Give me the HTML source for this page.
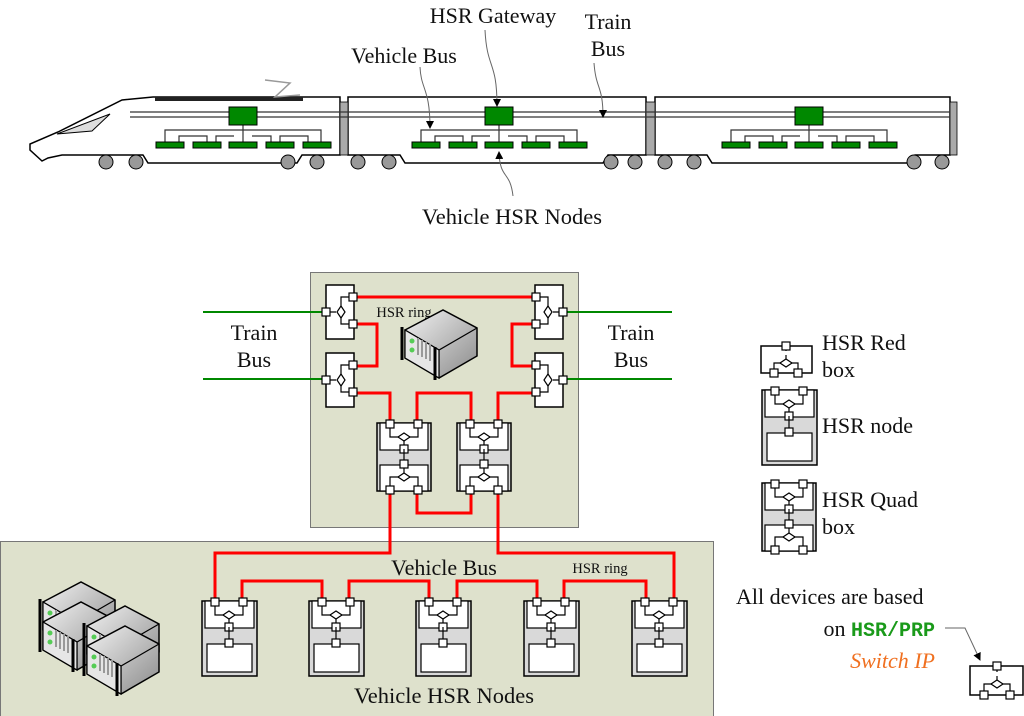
<!DOCTYPE html>
<html><head><meta charset="utf-8"><style>
html,body{margin:0;padding:0;background:#fff}
svg{display:block}
text{font-family:"Liberation Serif","DejaVu Serif",serif;fill:#111}
</style></head><body>
<svg width="1024" height="716" viewBox="0 0 1024 716" xmlns="http://www.w3.org/2000/svg">
<defs>
<linearGradient id="sg" x1="0" y1="0" x2="1" y2="1"><stop offset="0" stop-color="#f2f2f2"/><stop offset="1" stop-color="#8a8a8a"/></linearGradient>
<g id="port"><rect x="-4" y="-4" width="8" height="8" fill="#fff" stroke="#000" stroke-width="1.2"/></g>
<g id="dia"><path d="M-6,0 L0,-4 L6,0 L0,4 Z" fill="#fff" stroke="#000" stroke-width="1.2"/></g>
<g id="redbox">
<rect x="0" y="0" width="28" height="54" fill="#fff" stroke="#000" stroke-width="1.5"/>
<path d="M0,27 H10 M15,23 V12 H27 M15,31 V39 H27" fill="none" stroke="#000" stroke-width="1.2"/>
<use href="#dia" transform="translate(15,27) rotate(90)"/>
<use href="#port" x="0" y="27"/><use href="#port" x="27" y="12"/><use href="#port" x="27" y="39"/>
</g>
<g id="top">
<path d="M13,1 V14 H41 V1 M27,14 V26" fill="none" stroke="#000" stroke-width="1.2"/>
<use href="#dia" x="27" y="14"/>
<use href="#port" x="13" y="1"/><use href="#port" x="41" y="1"/><use href="#port" x="27" y="26"/>
</g>
<g id="quad">
<rect x="0" y="0" width="54" height="68" fill="#d9d9d9" stroke="#000" stroke-width="1.5"/>
<rect x="3" y="0" width="48" height="27" fill="#fff" stroke="#000" stroke-width="1.2"/>
<rect x="3" y="42" width="48" height="26" fill="#fff" stroke="#000" stroke-width="1.2"/>
<use href="#top"/>
<path d="M27,26 V41" stroke="#000" stroke-width="1.2"/>
<path d="M27,41 V54 M13,67 V54 H41 V67" fill="none" stroke="#000" stroke-width="1.2"/>
<use href="#dia" x="27" y="54"/>
<use href="#port" x="27" y="41"/><use href="#port" x="13" y="67"/><use href="#port" x="41" y="67"/>
</g>
<g id="node">
<rect x="0" y="0" width="55" height="75" fill="#d9d9d9" stroke="#000" stroke-width="1.5"/>
<rect x="3" y="0" width="49" height="27" fill="#fff" stroke="#000" stroke-width="1.2"/>
<rect x="5" y="43" width="45" height="28" fill="#fff" stroke="#000" stroke-width="1.2"/>
<use href="#top"/>
<path d="M27,26 V43" stroke="#000" stroke-width="1.2"/>
<use href="#port" x="27" y="42"/>
</g>
<g id="server">
<path d="M0,20 L38,0 L72,18 L72,46 L34,68 L0,48 Z" fill="url(#sg)" stroke="#000" stroke-width="1.5"/>
<path d="M0,20 L34,40 L72,18 M34,40 V68" fill="none" stroke="#000" stroke-width="1.2"/>
<path d="M0,20 L34,40 V68 L0,48 Z" fill="#e6e6e6" stroke="#000" stroke-width="1.2"/>
<circle cx="7" cy="31" r="2.5" fill="#5c5"/><circle cx="7" cy="40" r="2.5" fill="#5c5"/>
<path d="M13,28 V45 M17,30 V47 M21,32 V49 M25,34 V51" stroke="#999" stroke-width="2"/>
<path d="M-3,17 V50 M30,37 V70" stroke="#000" stroke-width="3"/>
</g>
<g id="gw"><rect x="0" y="0" width="28" height="18" fill="#080" stroke="#000" stroke-width="1"/></g>
<g id="vn"><rect x="0" y="0" width="28" height="6" fill="#080" stroke="#000" stroke-width="1"/></g>
<marker id="ah" markerWidth="8" markerHeight="8" refX="7" refY="4" orient="auto"><path d="M0,0 L8,4 L0,8 Z" fill="#000"/></marker>
</defs>

<!-- Train -->
<g stroke="#000" stroke-width="1.5" fill="#fff">
<path d="M42,161 L30,150 L30,144 L58,132 L122,100 L153,97 H340 V155 H302 L297,163 H148 L143,155 H62 L48,158 Z"/>
<path d="M348,97 H646 V155 H608 L603,163 H405 L400,155 H348 Z"/>
<path d="M655,97 H950 V155 H915 L910,163 H712 L707,155 H655 Z"/>
</g>
<path d="M57,134 L110,114 L92,131 Z" fill="#ddd" stroke="#000" stroke-width="1"/>
<rect x="155" y="97" width="148" height="4" fill="#222"/>
<path d="M265,80 L290,83 L275,97 L300,95" fill="none" stroke="#999" stroke-width="1.5"/>
<g fill="#aaa" stroke="#000" stroke-width="0.8">
<rect x="340" y="102" width="8" height="53"/><rect x="646" y="102" width="9" height="53"/><rect x="950" y="102" width="7" height="53"/>
</g>
<g stroke="#333" stroke-width="1.2"><path d="M130,112 H950 M130,117 H950"/></g>
<g fill="#999" stroke="#000" stroke-width="1">
<circle cx="106" cy="162" r="7"/><circle cx="136" cy="162" r="7"/><circle cx="288" cy="162" r="7"/><circle cx="317" cy="162" r="7"/>
<circle cx="358" cy="162" r="7"/><circle cx="389" cy="162" r="7"/><circle cx="611" cy="162" r="7"/><circle cx="635" cy="162" r="7"/>
<circle cx="665" cy="162" r="7"/><circle cx="694" cy="162" r="7"/><circle cx="914" cy="162" r="7"/><circle cx="942" cy="162" r="7"/>
</g>
<g id="bus2" fill="none" stroke="#333" stroke-width="1.2">
<path d="M499,125 V130 M421,142 V130 H577 V142 M435,142 V136 H463 V142 M472,142 V136 H490 M508,136 H527 V142 M536,142 V136 H564 V142 M499,130 V142"/>
</g>
<use href="#gw" x="485" y="107"/>
<use href="#vn" x="412" y="142"/><use href="#vn" x="449" y="142"/><use href="#vn" x="485" y="142"/><use href="#vn" x="522" y="142"/><use href="#vn" x="559" y="142"/>
<use href="#bus2" x="-256"/>
<use href="#gw" x="229" y="107"/>
<use href="#vn" x="156" y="142"/><use href="#vn" x="193" y="142"/><use href="#vn" x="229" y="142"/><use href="#vn" x="266" y="142"/><use href="#vn" x="303" y="142"/>
<use href="#bus2" x="310"/>
<use href="#gw" x="795" y="107"/>
<use href="#vn" x="722" y="142"/><use href="#vn" x="759" y="142"/><use href="#vn" x="795" y="142"/><use href="#vn" x="832" y="142"/><use href="#vn" x="869" y="142"/>

<!-- callouts -->
<g fill="none" stroke="#666" stroke-width="1" marker-end="url(#ah)">
<path d="M420,67 C421,90 430,88 430,128"/>
<path d="M485,30 C487,70 497,60 497,106"/>
<path d="M594,63 C596,90 603,85 603,117"/>
<path d="M513,196 C510,170 500,180 499,152"/>
<path d="M945,628 H965 L980,660"/>
</g>
<text x="404" y="63" font-size="22" text-anchor="middle">Vehicle Bus</text>
<text x="493" y="23" font-size="22" text-anchor="middle">HSR Gateway</text>
<text x="608" y="29" font-size="22" text-anchor="middle">Train</text>
<text x="608" y="56" font-size="22" text-anchor="middle">Bus</text>
<text x="512" y="224" font-size="22.5" text-anchor="middle">Vehicle HSR Nodes</text>

<!-- panels -->
<rect x="310.5" y="272.5" width="268" height="255" fill="#dee1cc" stroke="#777" stroke-width="1"/>
<rect x="0.5" y="541.5" width="713" height="180" fill="#dee1cc" stroke="#777" stroke-width="1"/>

<!-- green train bus -->
<g stroke="#080" stroke-width="2"><path d="M203,312 H326 M203,379 H326 M562,312 H672 M562,379 H672"/></g>
<text x="254" y="340" font-size="22" text-anchor="middle">Train</text>
<text x="254" y="367" font-size="22" text-anchor="middle">Bus</text>
<text x="631" y="340" font-size="22" text-anchor="middle">Train</text>
<text x="631" y="367" font-size="22" text-anchor="middle">Bus</text>

<!-- red ring -->
<g fill="none" stroke="#f00" stroke-width="3">
<path d="M353,297 H536"/>
<path d="M353,324 H377 V366 H353"/>
<path d="M353,393 H390 V424"/>
<path d="M417,424 V393 H471 V424"/>
<path d="M498,424 V393 H536"/>
<path d="M536,324 H512 V366 H536"/>
<path d="M417,490 V513 H471 V490"/>
<path d="M390,490 V553 H215 V602"/>
<path d="M498,490 V553 H674 V602"/>
<path d="M242,602 V581 H322 V602"/>
<path d="M349,602 V581 H429 V602"/>
<path d="M457,602 V581 H537 V602"/>
<path d="M564,602 V581 H646 V602"/>
</g>

<use href="#redbox" x="326" y="285"/>
<use href="#redbox" x="326" y="353"/>
<use href="#redbox" transform="translate(563,285) scale(-1,1)"/>
<use href="#redbox" transform="translate(563,353) scale(-1,1)"/>
<use href="#quad" x="377" y="423"/>
<use href="#quad" x="457" y="423"/>
<use href="#node" x="202" y="601"/>
<use href="#node" x="309" y="601"/>
<use href="#node" x="416" y="601"/>
<use href="#node" x="524" y="601"/>
<use href="#node" x="632" y="601"/>

<text x="404" y="317" font-size="14.5" text-anchor="middle">HSR ring</text>
<text x="600" y="573" font-size="14.5" text-anchor="middle">HSR ring</text>
<text x="444" y="575" font-size="22" text-anchor="middle">Vehicle Bus</text>
<text x="444" y="703" font-size="22.5" text-anchor="middle">Vehicle HSR Nodes</text>

<use href="#server" x="405" y="310"/>
<use href="#server" x="43" y="582"/>
<use href="#server" x="43" y="602"/>
<use href="#server" x="87" y="606"/>
<use href="#server" x="87" y="626"/>

<!-- legend -->
<g transform="translate(761,342)">
<rect x="0" y="4" width="51" height="27" fill="#fff" stroke="#000" stroke-width="1.5"/>
<path d="M25,4 V9 M25,21 V13 M13,31 V21 H37 V31" fill="none" stroke="#000" stroke-width="1.2"/>
<use href="#dia" x="25" y="21"/>
<use href="#port" x="25" y="4"/><use href="#port" x="13" y="31"/><use href="#port" x="37" y="31"/>
</g>
<use href="#node" x="762" y="390"/>
<use href="#quad" x="762" y="483"/>
<text x="822" y="350" font-size="22">HSR Red</text>
<text x="822" y="377" font-size="22">box</text>
<text x="822" y="433" font-size="22">HSR node</text>
<text x="822" y="507" font-size="22">HSR Quad</text>
<text x="822" y="534" font-size="22">box</text>
<text x="736" y="604" font-size="22">All devices are based</text>
<text x="935" y="636" font-size="22" text-anchor="end">on <tspan font-family="Liberation Mono,monospace" font-weight="bold" font-size="20" style="fill:#1a9a1a">HSR/PRP</tspan></text>
<text x="935" y="668" font-size="22" text-anchor="end" font-style="italic" style="fill:#f07020">Switch IP</text>
<g transform="translate(970,662)">
<rect x="0" y="4" width="53" height="29" fill="#fff" stroke="#000" stroke-width="1.5"/>
<path d="M27,4 V10 M27,22 V14 M14,33 V22 H40 V33" fill="none" stroke="#000" stroke-width="1.2"/>
<use href="#dia" x="27" y="22"/>
<use href="#port" x="27" y="4"/><use href="#port" x="14" y="33"/><use href="#port" x="40" y="33"/>
</g>
</svg>
</body></html>
